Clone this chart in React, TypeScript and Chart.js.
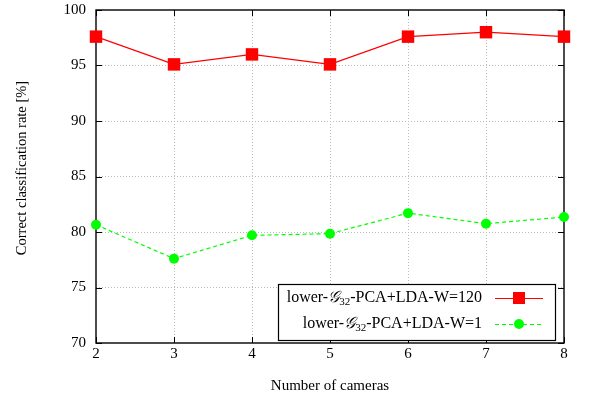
import React, { useEffect, useRef } from 'react';
import { Chart, registerables } from 'chart.js';
Chart.register(...registerables);

const cameras = [2, 3, 4, 5, 6, 7, 8];
const rateW120 = [97.6, 95.1, 96.0, 95.1, 97.6, 98.0, 97.6];
const rateW1 = [80.65, 77.6, 79.7, 79.85, 81.7, 80.75, 81.35];
const yTicks = [70, 75, 80, 85, 90, 95, 100];
const xTitle = 'Number of cameras';
const yTitle = 'Correct classification rate [%]';
const legendParts = [
  { prefix: 'lower-', script: '\u{1D4A2}', sub: '32', suffix: '-PCA+LDA-W=120' },
  { prefix: 'lower-', script: '\u{1D4A2}', sub: '32', suffix: '-PCA+LDA-W=1' },
];

const FONT = '"Liberation Serif", "DejaVu Serif", serif';
const RED = '#ff0000';
const GREEN = '#00ff00';

const framePlugin = {
  id: 'frame',
  beforeDatasetsDraw(chart: any) {
    const { ctx, chartArea: a, scales } = chart;
    const x = scales.x, y = scales.y;
    ctx.save();
    ctx.strokeStyle = '#000';
    ctx.lineWidth = 1;
    ctx.beginPath();
    for (const v of cameras) {
      const px = Math.round(x.getPixelForValue(v)) + 0.5;
      ctx.moveTo(px, a.bottom); ctx.lineTo(px, a.bottom - 6);
      ctx.moveTo(px, a.top); ctx.lineTo(px, a.top + 6);
    }
    for (const v of yTicks) {
      const py = Math.round(y.getPixelForValue(v)) + 0.5;
      ctx.moveTo(a.left, py); ctx.lineTo(a.left + 6, py);
      ctx.moveTo(a.right, py); ctx.lineTo(a.right - 6, py);
    }
    ctx.stroke();
    ctx.lineWidth = 1.4;
    ctx.strokeRect(a.left, a.top, a.right - a.left, a.bottom - a.top);
    // y axis title
    ctx.translate(22, 168);
    ctx.rotate(-Math.PI / 2);
    ctx.fillStyle = '#000';
    ctx.font = '14.5px ' + FONT;
    ctx.textAlign = 'center';
    ctx.textBaseline = 'middle';
    ctx.fillText(yTitle, 0, 0);
    ctx.restore();
  },
};

const legendPlugin = {
  id: 'boxLegend',
  afterDraw(chart: any) {
    const { ctx } = chart;
    const bx = 278, by = 284, bw = 277, bh = 56;
    ctx.save();
    ctx.fillStyle = '#fff';
    ctx.fillRect(bx, by, bw, bh);
    ctx.strokeStyle = '#000';
    ctx.lineWidth = 1.2;
    ctx.strokeRect(bx + 0.5, by + 0.5, bw, bh);
    const rows = [298, 324];
    chart.data.datasets.forEach((ds: any, i: number) => {
      const cy = rows[i];
      const p = legendParts[i];
      const main = '16px ' + FONT;
      const subF = '11px ' + FONT;
      const scriptF = 'italic 16px "DejaVu Serif", serif';
      ctx.font = main; const w1 = ctx.measureText(p.prefix).width; const w4 = ctx.measureText(p.suffix).width;
      ctx.font = scriptF; const w2 = ctx.measureText(p.script).width;
      ctx.font = subF; const w3 = ctx.measureText(p.sub).width;
      let xx = 482 - (w1 + w2 + w3 + w4);
      ctx.fillStyle = '#000';
      ctx.textBaseline = 'middle';
      ctx.textAlign = 'left';
      ctx.font = main; ctx.fillText(p.prefix, xx, cy); xx += w1;
      ctx.font = scriptF; ctx.fillText(p.script, xx, cy); xx += w2;
      ctx.font = subF; ctx.fillText(p.sub, xx, cy + 4); xx += w3;
      ctx.font = main; ctx.fillText(p.suffix, xx, cy);
      ctx.strokeStyle = ds.borderColor;
      ctx.lineWidth = ds.borderWidth;
      ctx.setLineDash(ds.borderDash || []);
      ctx.beginPath(); ctx.moveTo(495, cy + 0.5); ctx.lineTo(543, cy + 0.5); ctx.stroke();
      ctx.setLineDash([]);
      ctx.fillStyle = ds.pointBackgroundColor;
      if (ds.pointStyle === 'rect') {
        ctx.fillRect(519 - 6, cy - 6, 12, 12);
      } else {
        ctx.beginPath(); ctx.arc(519, cy, 5, 0, Math.PI * 2); ctx.fill();
      }
    });
    ctx.restore();
  },
};

export default function App() {
  const ref = useRef<HTMLCanvasElement>(null);
  useEffect(() => {
    document.body.style.margin = '0';
    const chart = new Chart(ref.current!, {
      type: 'line',
      data: {
        datasets: [
          {
            label: 'W=120',
            data: cameras.map((c, i) => ({ x: c, y: rateW120[i] })),
            borderColor: RED, backgroundColor: RED,
            pointBackgroundColor: RED, pointBorderColor: RED,
            borderWidth: 1.2, pointStyle: 'rect', pointRadius: 8.8, pointBorderWidth: 0,
            clip: false as any,
          },
          {
            label: 'W=1',
            data: cameras.map((c, i) => ({ x: c, y: rateW1[i] })),
            borderColor: GREEN, backgroundColor: GREEN,
            pointBackgroundColor: GREEN, pointBorderColor: GREEN,
            borderWidth: 1.2, borderDash: [4, 3], pointStyle: 'circle', pointRadius: 5, pointBorderWidth: 0,
            clip: false as any,
          },
        ],
      },
      options: {
        animation: false,
        responsive: false,
        layout: { padding: { top: 10, right: 26, left: 0, bottom: 0 } },
        plugins: { legend: { display: false }, tooltip: { enabled: false } },
        scales: {
          x: {
            type: 'linear', min: 2, max: 8,
            afterFit: (s: any) => { s.height = 52; s.paddingLeft = 0; s.paddingRight = 0; },
            afterBuildTicks: (s: any) => { s.ticks = cameras.map((v) => ({ value: v })); },
            ticks: { color: '#000', font: { family: FONT, size: 15 }, padding: 2 },
            grid: { drawTicks: false, color: (c: any) => (c.tick && (c.tick.value === 2 || c.tick.value === 8) ? 'rgba(0,0,0,0)' : '#bbbbbb'), lineWidth: 1 },
            border: { display: false, dash: [1, 2] },
            title: { display: true, text: xTitle, color: '#000', font: { family: FONT, size: 15 }, padding: { top: 0, bottom: 0 } },
          },
          y: {
            type: 'linear', min: 70, max: 100,
            afterFit: (s: any) => { s.width = 96; s.paddingTop = 0; s.paddingBottom = 0; },
            afterBuildTicks: (s: any) => { s.ticks = yTicks.map((v) => ({ value: v })); },
            ticks: { color: '#000', font: { family: FONT, size: 15 }, padding: 10 },
            grid: { drawTicks: false, color: (c: any) => (c.tick && (c.tick.value === 70 || c.tick.value === 100) ? 'rgba(0,0,0,0)' : '#bbbbbb'), lineWidth: 1 },
            border: { display: false, dash: [1, 2] },
          },
        },
      },
      plugins: [framePlugin, legendPlugin],
    });
    return () => chart.destroy();
  }, []);
  return <canvas ref={ref} width={590} height={395} style={{ display: 'block' }} />;
}
